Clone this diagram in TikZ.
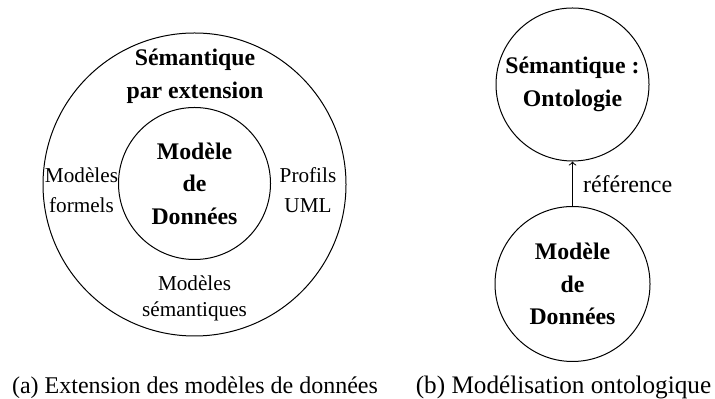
\documentclass[tikz,border=0pt]{standalone}
\usepackage{fontspec}
\setmainfont{Liberation Serif}
\begin{document}
\begin{tikzpicture}[x=0.5pt,y=-0.5pt,
  ring/.style={draw,circle,line width=0.5pt,inner sep=0pt},
  boldtxt/.style={font=\fontsize{11.9}{16.3}\selectfont\bfseries,align=center},
  lbl/.style={inner sep=0pt,align=center,font=\fontsize{10.6}{15}\selectfont},
  captxt/.style={inner sep=0pt,font=\fontsize{12}{14}\selectfont}]
\useasboundingbox (0,0) rectangle (715,399);
% (a)
\node[ring,minimum size=151.5pt] (outer) at (194.5,184.5) {};
\node[ring,boldtxt,minimum size=76pt] (inner) at (194.5,183.5) {Modèle\\de\\Données};
\node[boldtxt,inner sep=0pt] (sem) at (195,76.5) {Sémantique\\par extension};
\node[lbl] (formels) at (81.5,190) {Modèles\\formels};
\node[lbl] (uml) at (308,190) {Profils\\UML};
\node[lbl,font=\fontsize{10.6}{12.8}\selectfont] (semmod) at (194.5,298.5) {Modèles\\sémantiques};
\node[captxt] (capa) at (195,387.5) {(a) Extension des modèles de données};
% (b)
\node[ring,boldtxt,minimum size=76.5pt] (onto) at (572.5,84.5) {Sémantique :\\Ontologie};
\node[ring,boldtxt,minimum size=77.5pt] (dm) at (572.5,284) {Modèle\\de\\Données};
\draw[->,line width=0.5pt] (dm) -- node[midway,anchor=west,inner sep=0pt,xshift=5pt,font=\fontsize{12}{14}\selectfont] (ref) {référence} (onto);
\node[captxt,font=\fontsize{12.6}{14}\selectfont] (capb) at (563.5,387.5) {(b) Modélisation ontologique};
\end{tikzpicture}
\end{document}
